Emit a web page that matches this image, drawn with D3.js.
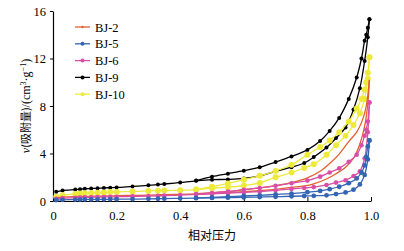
<!DOCTYPE html>
<html>
<head>
<meta charset="utf-8">
<script src="https://cdn.jsdelivr.net/npm/d3@7"></script>
<style>
  body { margin: 0; background: #fff; }
  svg text { font-family: "Liberation Serif", "Noto Sans CJK SC", serif; }
</style>
</head>
<body>
<svg id="chart" width="404" height="251"></svg>
<script>
// relative pressure steps, adsorption (rising) and desorption (falling)
var adsP = [0.01, 0.03, 0.07, 0.085, 0.10, 0.12, 0.14, 0.16, 0.18, 0.20, 0.25, 0.30, 0.33, 0.35, 0.40, 0.45,
            0.50, 0.55, 0.60, 0.65, 0.70, 0.75, 0.79, 0.82, 0.86, 0.89, 0.92, 0.945, 0.965, 0.98, 0.99, 0.995];
var desP = [0.995, 0.99, 0.985, 0.98, 0.97, 0.955, 0.93, 0.90, 0.87, 0.84, 0.80, 0.75, 0.70, 0.65, 0.60, 0.55, 0.50, 0.45];

var names = ["BJ-2", "BJ-5", "BJ-6", "BJ-9", "BJ-10"];
var colors = ["#e0612f", "#3464b4", "#d94ea6", "#000000", "#eeea3c"];
var markerR = [0, 2.4, 2.3, 2, 3];

var ads2 = [0.28, 0.33, 0.37, 0.38, 0.39, 0.40, 0.41, 0.42, 0.43, 0.45, 0.47, 0.50, 0.52, 0.53, 0.56, 0.60,
            0.65, 0.71, 0.78, 0.87, 0.98, 1.15, 1.27, 1.45, 1.85, 2.3, 2.85, 3.6, 4.8, 6.3, 8.2, 10.2];
var des2 = [10.2, 8.9, 8.0, 7.4, 6.6, 5.8, 5.0, 3.95, 3.15, 2.5, 1.95, 1.55, 1.3, 1.1, 0.95, 0.8, 0.7, 0.62];

var ads5 = [0.08, 0.10, 0.12, 0.12, 0.13, 0.13, 0.14, 0.14, 0.15, 0.15, 0.16, 0.18, 0.19, 0.20, 0.22, 0.24,
            0.26, 0.28, 0.30, 0.33, 0.36, 0.40, 0.42, 0.44, 0.48, 0.58, 0.72, 0.95, 1.4, 2.2, 3.5, 5.1];
var des5 = [5.1, 4.6, 3.7, 3.0, 2.4, 1.9, 1.5, 1.2, 1.0, 0.85, 0.74, 0.62, 0.55, 0.48, 0.42, 0.36, 0.30, 0.26];

var ads6 = [0.18, 0.24, 0.28, 0.30, 0.31, 0.32, 0.33, 0.34, 0.35, 0.36, 0.39, 0.42, 0.44, 0.45, 0.50, 0.55,
            0.60, 0.66, 0.72, 0.80, 0.90, 1.02, 1.10, 1.17, 1.35, 1.55, 1.75, 2.1, 2.5, 3.6, 5.8, 8.3];
var des6 = [8.3, 6.7, 6.0, 5.5, 4.7, 3.9, 3.3, 2.75, 2.4, 2.05, 1.72, 1.5, 1.28, 1.1, 0.95, 0.8, 0.68, 0.58];

var ads9 = [0.77, 0.88, 0.96, 1.00, 1.03, 1.05, 1.07, 1.10, 1.12, 1.14, 1.23, 1.32, 1.38, 1.43, 1.56, 1.70,
            1.80, 1.82, 1.90, 2.12, 2.5, 2.85, 3.2, 3.7, 4.5, 5.3, 6.2, 7.7, 9.5, 11.8, 13.8, 15.3];
var des9 = [15.3, 14.6, 14.0, 13.5, 12.0, 10.4, 8.6, 7.0, 5.9, 5.05, 4.3, 3.75, 3.28, 2.85, 2.55, 2.3, 2.05, 1.72];

var ads10 = [0.35, 0.49, 0.60, 0.63, 0.66, 0.68, 0.70, 0.72, 0.75, 0.76, 0.80, 0.85, 0.87, 0.88, 0.91, 0.96,
             1.08, 1.16, 1.30, 1.52, 2.0, 2.4, 2.78, 3.1, 3.9, 4.7, 5.5, 6.4, 7.4, 8.6, 10.3, 12.1];
var des10 = [12.1, 10.8, 10.0, 9.4, 8.6, 7.8, 6.7, 5.8, 5.1, 4.55, 3.9, 3.05, 2.52, 2.12, 1.8, 1.48, 1.2, 0.96];

var xTicks = [0, 0.2, 0.4, 0.6, 0.8, 1.0];
var yTicks = [0, 4, 8, 12, 16];

var adsAll = [ads2, ads5, ads6, ads9, ads10];
var desAll = [des2, des5, des6, des9, des10];

var margin = { top: 11, right: 33, bottom: 50, left: 53 },
    width = 404 - margin.left - margin.right,
    height = 251 - margin.top - margin.bottom;

var svg = d3.select("#chart");
var g = svg.append("g").attr("transform", "translate(" + margin.left + "," + margin.top + ")");

var x = d3.scaleLinear().domain([0, 1]).range([0, width]);
var y = d3.scaleLinear().domain([0, 16]).range([height, 0]);

// axes
var xAxis = g.append("g")
    .attr("transform", "translate(0," + height + ")")
    .call(d3.axisBottom(x).tickValues(xTicks).tickSizeInner(-4).tickSizeOuter(0).tickPadding(10)
        .tickFormat(function(d) { return d === 0 ? "0" : d3.format(".1f")(d); }));
var yAxis = g.append("g")
    .call(d3.axisLeft(y).tickValues(yTicks).tickSizeInner(3).tickSizeOuter(0).tickPadding(4));

[xAxis, yAxis].forEach(function(a) {
    a.select(".domain").attr("stroke", "#000").attr("stroke-width", 1.2);
    a.selectAll(".tick line").attr("stroke", "#000");
    a.selectAll(".tick text").attr("font-size", 12.5).attr("fill", "#000")
        .style("font-family", "'Liberation Serif', serif");
});

var line = d3.line()
    .x(function(d) { return x(d[0]); })
    .y(function(d) { return y(d[1]); })
    .curve(d3.curveCatmullRom);

var series = names.map(function(n, i) {
    return {
        name: n, color: colors[i], r: markerR[i],
        ads: adsP.map(function(p, k) { return [p, adsAll[i][k]]; }),
        des: desP.map(function(p, k) { return [p, desAll[i][k]]; })
    };
});

// draw BJ-9 first so the lower curves sit on top of each other like the original
var order = [3, 4, 0, 2, 1];
order.forEach(function(i) {
    var s = series[i];
    var sg = g.append("g");
    [s.ads, s.des].forEach(function(branch) {
        sg.append("path")
            .datum(branch)
            .attr("fill", "none")
            .attr("stroke", s.color)
            .attr("stroke-width", 1.3)
            .attr("d", line);
        if (s.r > 0) {
            sg.selectAll(null)
                .data(branch)
                .enter().append("circle")
                .attr("cx", function(d) { return x(d[0]); })
                .attr("cy", function(d) { return y(d[1]); })
                .attr("r", s.r)
                .attr("fill", s.color);
        }
    });
});

// legend
var legend = svg.append("g").attr("transform", "translate(75,27)");
series.forEach(function(s, i) {
    var row = legend.append("g").attr("transform", "translate(0," + (i * 16.8) + ")");
    row.append("line").attr("x1", 0).attr("x2", 15).attr("y1", 0).attr("y2", 0)
        .attr("stroke", s.color).attr("stroke-width", 1.3);
    row.append("circle").attr("cx", 7.5).attr("cy", 0).attr("r", s.r > 0 ? 2 : 1.2).attr("fill", s.color);
    row.append("text").attr("x", 20).attr("y", 4.5).attr("font-size", 12.5).attr("fill", "#000").text(s.name);
});

// axis titles
svg.append("text")
    .attr("x", margin.left + width / 2)
    .attr("y", 240)
    .attr("text-anchor", "middle")
    .attr("font-size", 12)
    .style("font-family", "'Noto Sans CJK SC', sans-serif")
    .text("相对压力");

var yt = svg.append("text")
    .attr("transform", "translate(30," + (margin.top + height / 2) + ") rotate(-90)")
    .attr("text-anchor", "middle")
    .attr("font-size", 12);
yt.append("tspan").attr("font-style", "italic").text("v");
yt.append("tspan").style("font-family", "'Noto Sans CJK SC', sans-serif").attr("font-size", 11).text("(吸附量)");
yt.append("tspan").text("/(cm");
yt.append("tspan").attr("font-size", 8).attr("dy", -4).text("3");
yt.append("tspan").attr("dy", 4).text("·g");
yt.append("tspan").attr("font-size", 8).attr("dy", -4).text("−1");
yt.append("tspan").attr("dy", 4).text(")");
</script>
</body>
</html>
